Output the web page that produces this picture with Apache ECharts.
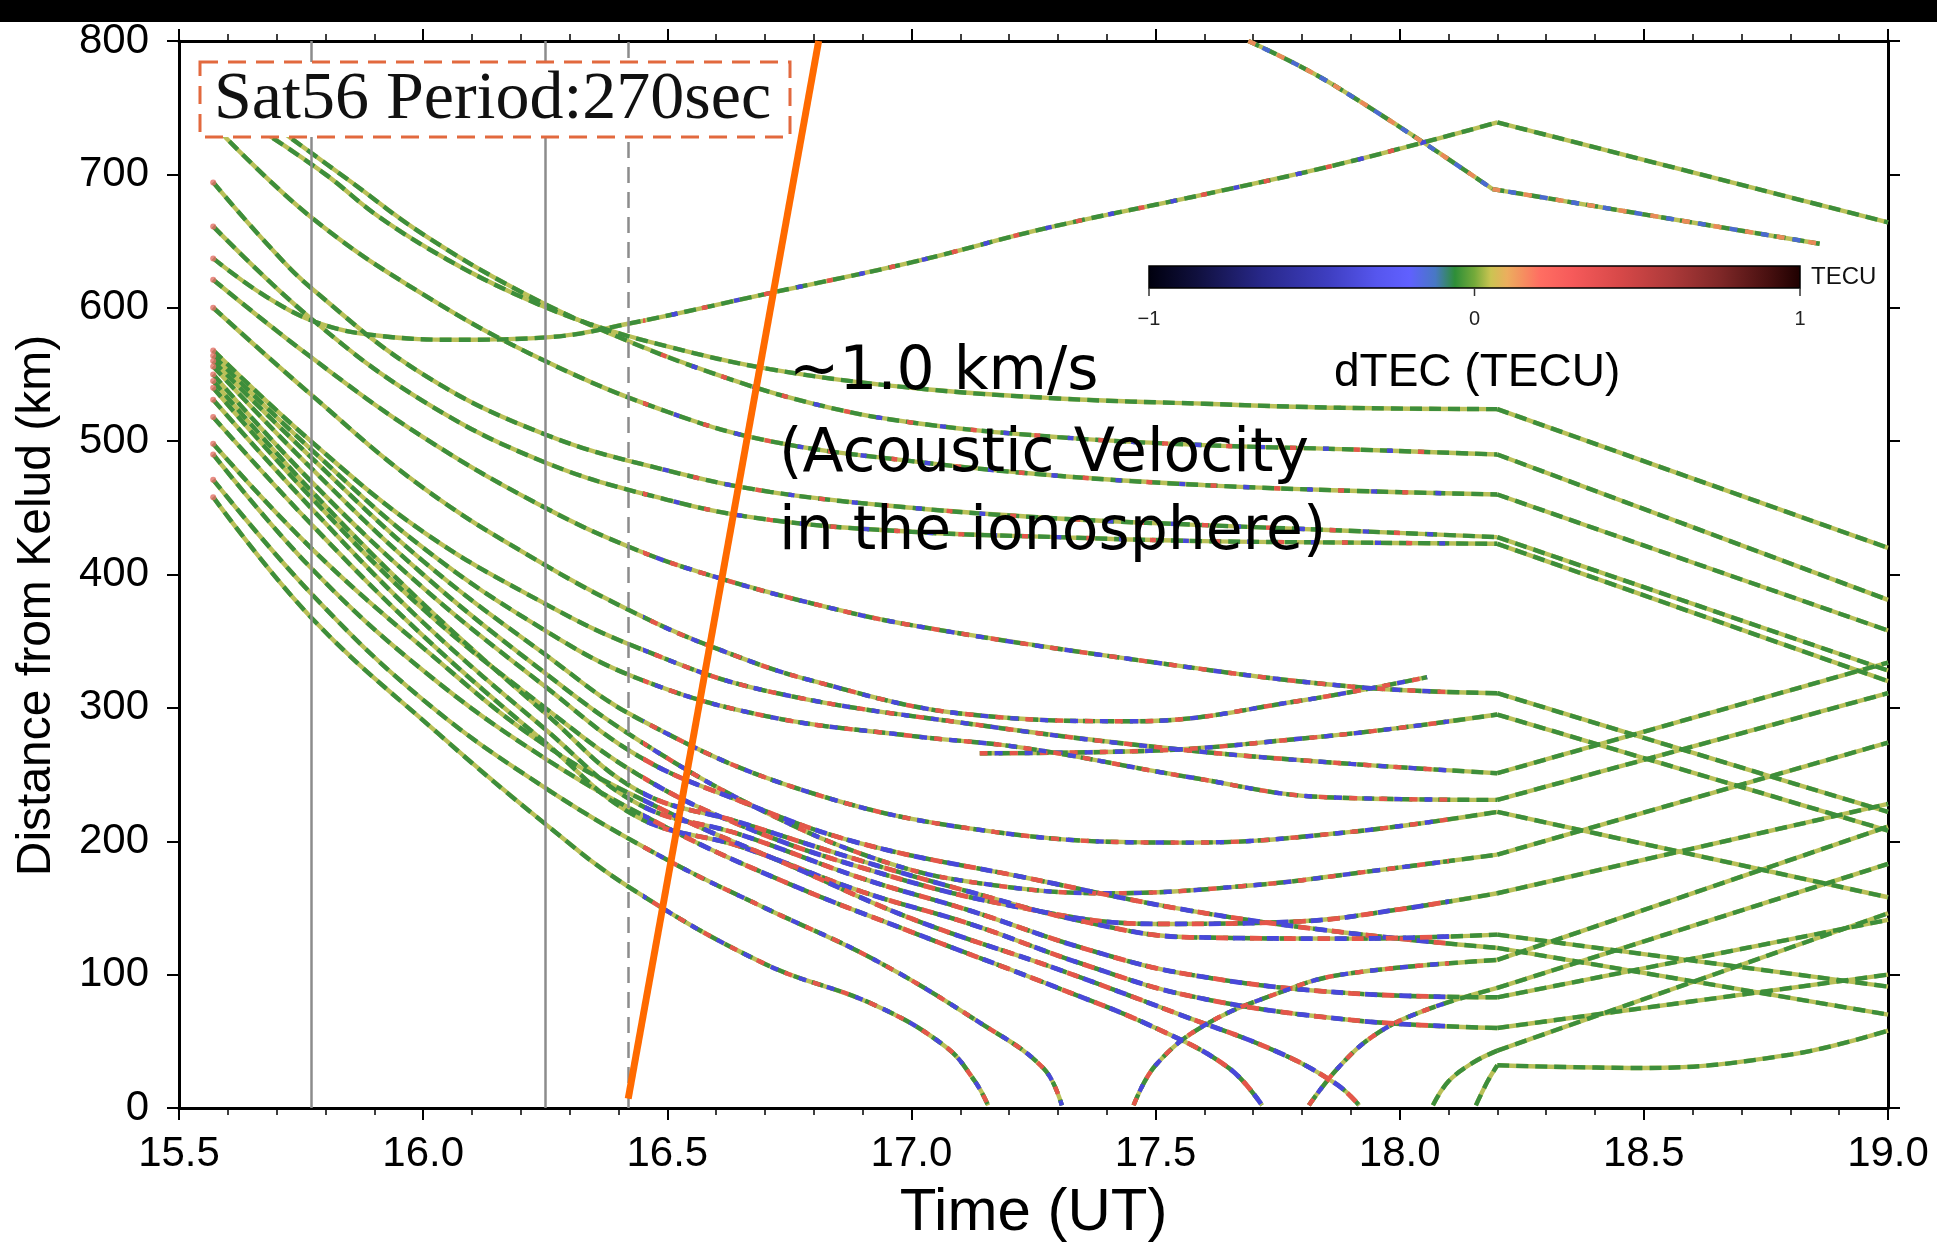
<!DOCTYPE html>
<html>
<head>
<meta charset="utf-8">
<title>Sat56 dTEC</title>
<script src="https://cdn.jsdelivr.net/npm/echarts@6.0.0/dist/echarts.min.js"></script>
<style>
html,body{margin:0;padding:0;background:#ffffff;}
#chart{width:1937px;height:1248px;}
</style>
</head>
<body>
<div id="chart"></div>
<script>
// ---------------- data: time (UT hours), distance from Kelud (km) ----------------
const xRange = [15.5, 19.0];
const yRange = [0, 800];
const refLinesSolid = [15.77, 16.25];
const refLinesDashed = [16.42];
const acousticLine = [[16.42, 7], [16.81, 800]];
const colorbarTicks = [-1, 0, 1];
const disturbWindow = [16.45, 18.1];

const trkU1 = [[15.66,735],[15.8,700],[15.91,668],[16.05,636],[16.19,610],[16.34,588],[16.5,571],[16.71,554],[17.0,540],[17.3,532],[17.6,528],[17.88,525],[18.2,524],[19.0,420]];
const trkU2 = [[15.70,735],[15.85,695],[16.0,655],[16.2,612],[16.4,578],[16.6,550],[16.8,528],[17.0,514],[17.3,503],[17.6,497],[17.88,494],[18.2,490],[19.0,381]];
const trkU3 = [[15.576,735],[15.77,668],[16.0,610],[16.25,560],[16.5,522],[16.71,500],[17.0,485],[17.3,474],[17.6,467],[17.88,463],[18.2,460],[19.0,358]];
const trkU4 = [[15.57,694],[15.68,648],[15.77,615],[16.0,550],[16.25,505],[16.5,478],[16.71,462],[17.0,450],[17.3,442],[17.6,437],[17.88,433],[18.2,428],[19.0,328]];
const trkU5 = [[15.57,661],[15.77,592],[16.0,530],[16.25,484],[16.5,456],[16.71,441],[17.0,432],[17.3,428],[17.6,425],[17.88,424],[18.2,423],[19.0,320]];
const trkUT = [[15.57,637],[15.68,608],[15.79,588],[15.91,579],[16.07,576],[16.26,578],[16.42,588],[16.71,611],[17.0,634],[17.28,660],[17.6,685],[17.88,708],[18.2,739],[19.0,664]];
const trkT1 = [[17.69,800],[17.86,768],[18.19,689],[18.86,648]];
const trkK1 = [[15.57,621],[15.77,563],[16.0,503],[16.25,450],[16.44,418],[16.6,398],[16.8,378],[17.0,362],[17.46,336],[17.9,316],[18.2,311],[18.72,253],[19.0,222]];
const trkM1 = [[15.57,600],[15.77,535],[16.0,465],[16.25,407],[16.44,370],[16.59,346],[16.8,320],[17.12,295],[17.46,290],[17.79,305],[18.056,323]];
const trkK2 = [[15.57,568],[15.77,500],[16.0,432],[16.25,378],[16.44,345],[16.7,313],[17.16,286],[17.57,268],[17.9,258],[18.2,251],[19.0,334]];
const trkK3 = [[17.14,266],[17.5,268],[17.8,277],[18.0,285],[18.2,295],[19.0,208]];
const trkK4 = [[15.57,564],[15.77,494],[16.0,420],[16.25,358],[16.44,322],[16.7,294],[17.0,279],[17.23,270],[17.57,248],[17.85,233],[18.2,231],[19.0,311]];
const trkKa = [[15.57,560],[15.77,488],[16.0,410],[16.25,340],[16.44,292],[16.78,238],[17.17,207],[17.57,199],[17.9,207],[18.2,222],[19.0,158]];
const trkKb = [[15.57,556],[15.77,480],[16.0,400],[16.25,326],[16.44,276],[16.7,222],[16.95,184],[17.15,168],[17.4,161],[17.7,167],[17.95,178],[18.2,190],[19.0,274]];
const trkKe = [[15.57,550],[15.77,470],[16.0,390],[16.25,316],[16.44,264],[16.65,230],[16.89,199],[17.23,173],[17.57,148],[17.9,131],[18.2,120],[19.0,70]];
const trkKc = [[15.57,540],[15.77,458],[16.0,374],[16.25,300],[16.44,250],[16.65,212],[16.9,180],[17.2,152],[17.5,138],[17.8,140],[18.0,149],[18.2,161],[19.0,228]];
const trkKd = [[15.57,545],[15.77,463],[16.0,378],[16.25,296],[16.44,238],[16.65,214],[16.9,185],[17.12,162],[17.35,140],[17.57,128],[17.9,127],[18.2,130],[19.0,91]];
const trkKf = [[15.57,531],[15.77,450],[16.0,364],[16.25,284],[16.44,228],[16.65,205],[16.9,172],[17.12,148],[17.35,120],[17.57,100],[17.9,86],[18.2,83],[19.0,141]];
const trkKg = [[15.57,518],[15.77,438],[16.0,354],[16.25,274],[16.44,218],[16.65,196],[16.9,162],[17.12,138],[17.35,108],[17.57,84],[17.9,66],[18.2,60],[19.0,100]];
const trkL4 = [[15.57,498],[15.77,420],[16.0,345],[16.25,272],[16.5,222],[16.75,182],[17.0,142],[17.3,104],[17.55,70],[17.75,42],[17.87,18],[17.917,2]];
const trkL3 = [[15.57,490],[15.77,405],[16.0,328],[16.25,262],[16.5,210],[16.75,168],[17.0,132],[17.3,90],[17.5,60],[17.65,30],[17.718,2]];
const trkL2 = [[15.57,471],[15.77,386],[16.0,306],[16.25,240],[16.5,186],[16.7,150],[16.92,112],[17.14,64],[17.27,30],[17.308,2]];
const trkL1 = [[15.57,458],[15.77,368],[16.03,281],[16.25,213],[16.42,166],[16.7,108],[16.92,78],[17.07,46],[17.13,20],[17.157,2]];
const trkR1 = [[17.455,2],[17.5,32],[17.6,62],[17.75,86],[17.88,100],[18.2,111],[19.0,211]];
const trkR2 = [[17.814,2],[17.876,31],[17.95,55],[18.05,73],[18.2,90],[19.0,183]];
const trkR3 = [[18.068,2],[18.1,20],[18.15,34],[18.2,43],[19.0,146]];
const trkR4 = [[18.156,2],[18.18,20],[18.2,32],[18.5,30],[18.8,40],[19.0,58]];

const bandTracks = ['Kc','Kd','Ke','Kf','Kg','L4','L3'];
const strongTracks = ['M1','K1','K2','K3','K4','Ka','Kb','L1','L2','R1','R2'];
const lightTracks = ['U2','U3','U4','U5','UT'];
const fullyDisturbed = ['T1'];

// ---------------- build ----------------
const tracks = {U1:trkU1,U2:trkU2,U3:trkU3,U4:trkU4,U5:trkU5,UT:trkUT,T1:trkT1,K1:trkK1,M1:trkM1,
  K2:trkK2,K3:trkK3,K4:trkK4,Ka:trkKa,Kb:trkKb,Ke:trkKe,Kc:trkKc,Kd:trkKd,Kf:trkKf,Kg:trkKg,
  L4:trkL4,L3:trkL3,L2:trkL2,L1:trkL1,R1:trkR1,R2:trkR2,R3:trkR3,R4:trkR4};

const LW = 4.4;
const BASE = '#bac058';
const GREEN = '#3d8e3b';
const RED = '#e4564a';
const BLUE = '#4848da';

function splitKink(pts){
  const i = pts.findIndex(p => Math.abs(p[0] - 18.2) <= 0.015);
  if (i < 0 || i === pts.length - 1) return [pts];
  return [pts.slice(0, i + 1), pts.slice(i)];
}

const series = [];
const redIdx = [], blueIdx = [];
function addLine(data, lineStyle, z){
  series.push({type:'line', data:data, smooth:0.4, showSymbol:false, symbol:'none',
    silent:true, animation:false, z:z, lineStyle:lineStyle});
  return series.length - 1;
}

Object.keys(tracks).forEach(name => {
  const segs = splitKink(tracks[name]);
  segs.forEach(seg => {
    addLine(seg, {color:BASE, width:LW, cap:'butt'}, 2);
    addLine(seg, {color:GREEN, width:LW, type:[12,7], cap:'butt'}, 3);
    if (bandTracks.includes(name)) {
      redIdx.push(addLine(seg, {width:LW + 0.4, type:[12,22], dashOffset:0, cap:'butt'}, 4));
      blueIdx.push(addLine(seg, {width:LW + 0.4, type:[12,22], dashOffset:17, cap:'butt'}, 4));
    } else if (strongTracks.includes(name)) {
      redIdx.push(addLine(seg, {width:LW, type:[8,22], dashOffset:0, cap:'butt'}, 4));
      blueIdx.push(addLine(seg, {width:LW, type:[8,22], dashOffset:15, cap:'butt'}, 4));
    } else if (lightTracks.includes(name)) {
      redIdx.push(addLine(seg, {width:LW, type:[6,58], dashOffset:0, cap:'butt'}, 4));
      blueIdx.push(addLine(seg, {width:LW, type:[6,58], dashOffset:31, cap:'butt'}, 4));
    } else if (fullyDisturbed.includes(name)) {
      addLine(seg, {color:'#e98a58', width:LW, type:[8,24], dashOffset:0, cap:'butt'}, 4);
      addLine(seg, {color:'#4a6ad0', width:LW, type:[8,24], dashOffset:16, cap:'butt'}, 4);
    }
  });
});

// start dots of tracks that begin at the left edge
const startDots = Object.keys(tracks).map(k => tracks[k][0]).filter(p => p[0] < 15.6 && p[1] < 720);
series.push({type:'scatter', data:startDots, symbolSize:6, silent:true, animation:false, z:5,
  itemStyle:{color:'#e27068'}});

// reference vertical lines + acoustic-velocity line
series.push({type:'line', data:acousticLine, showSymbol:false, symbol:'none', silent:true, animation:false, z:7,
  lineStyle:{color:'#ff6a00', width:7, cap:'butt'},
  markLine:{symbol:'none', silent:true, animation:false, label:{show:false},
    lineStyle:{color:'#8c8c8c', width:2.5, type:'solid'},
    data: refLinesSolid.map(v => ({xAxis:v}))
      .concat(refLinesDashed.map(v => ({xAxis:v, lineStyle:{type:[16,9], color:'#8c8c8c', width:2.5}})))}});

const visualMap = [
  {type:'piecewise', show:false, dimension:0, seriesIndex:redIdx,
   pieces:[{gte:disturbWindow[0], lte:disturbWindow[1], color:RED}], outOfRange:{color:'rgba(255,255,255,0)'}},
  {type:'piecewise', show:false, dimension:0, seriesIndex:blueIdx,
   pieces:[{gte:disturbWindow[0], lte:disturbWindow[1], color:BLUE}], outOfRange:{color:'rgba(255,255,255,0)'}}
];

// ---------------- layout / style ----------------
const FONT = 'Liberation Sans';
const axisLineStyle = {color:'#000', width:3};
const tickStyle = {show:true, length:12, lineStyle:{color:'#000', width:2}};
const minorTickStyle = {show:true, splitNumber:5, length:7, lineStyle:{color:'#000', width:1.5}};

const grid = {left:179, right:49, top:41, bottom:140, containLabel:false};

const cb = {x0:1149, x1:1800, y:266, h:22};
const cbStops = [
  [-1.0,'#00000e'],[-0.85,'#10103e'],[-0.65,'#28288a'],[-0.45,'#3e3ec0'],[-0.3,'#5656ee'],[-0.2,'#6060ff'],
  [-0.12,'#4878c4'],[-0.06,'#2e8e38'],[0.0,'#74aa3a'],[0.05,'#cbc452'],[0.1,'#ecae5e'],[0.2,'#ff6e62'],
  [0.3,'#f65a5a'],[0.45,'#d64848'],[0.6,'#ae3a3a'],[0.75,'#802828'],[0.9,'#481010'],[1.0,'#1e0000']
];
const cbPos = v => cb.x0 + (v + 1) / 2 * (cb.x1 - cb.x0);

const txt = (text, x, y, font, extra) => ({type:'text', z:101, silent:true,
  style:Object.assign({text:text, x:x, y:y, font:font, fill:'#000', textAlign:'left', textVerticalAlign:'middle',
    align:'left', verticalAlign:'middle'}, extra || {})});

const graphic = [
  {type:'rect', z:100, silent:true, shape:{x:0, y:0, width:1937, height:22}, style:{fill:'#000'}},
  {type:'rect', z:100, silent:true, shape:{x:200, y:62, width:590, height:75},
   style:{fill:'#ffffff', stroke:'#e2693e', lineWidth:3, lineDash:[18,10]}},
  txt('Sat56 Period:270sec', 214, 100, '68px "Liberation Serif"', {fill:'#111'}),
  txt('~1.0 km/s', 789, 373, '60px "DejaVu Sans"'),
  txt('(Acoustic Velocity', 779, 455, '60px "DejaVu Sans"'),
  txt('in the ionosphere)', 779, 533, '60px "DejaVu Sans"'),
  {type:'rect', z:101, silent:true, shape:{x:cb.x0, y:cb.y, width:cb.x1 - cb.x0, height:cb.h},
   style:{stroke:'#000', lineWidth:1.5, fill:{type:'linear', x:0, y:0, x2:1, y2:0,
     colorStops: cbStops.map(s => ({offset:(s[0] + 1) / 2, color:s[1]}))}}},
  txt('TECU', cb.x1 + 11, cb.y + cb.h / 2, '24px "Liberation Sans"', {fill:'#111'}),
  txt('dTEC (TECU)', 1334, 373, '46px "Liberation Sans"')
];
colorbarTicks.forEach(v => {
  graphic.push({type:'line', z:101, silent:true, shape:{x1:cbPos(v), y1:cb.y + cb.h, x2:cbPos(v), y2:cb.y + cb.h + 8},
    style:{stroke:'#333', lineWidth:1.5}});
  graphic.push(txt((v < 0 ? '\u2212' : '') + Math.abs(v), cbPos(v), cb.y + cb.h + 31, '20px "Liberation Sans"',
    {fill:'#222', textAlign:'center', align:'center'}));
});

const option = {
  backgroundColor:'#ffffff',
  animation:false,
  grid:grid,
  xAxis:[
    {type:'value', position:'bottom', min:xRange[0], max:xRange[1], interval:0.5,
     axisLine:{show:true, onZero:false, lineStyle:axisLineStyle}, axisTick:tickStyle, minorTick:minorTickStyle,
     splitLine:{show:false}, minorSplitLine:{show:false},
     axisLabel:{formatter:v => v.toFixed(1), fontSize:42, fontFamily:FONT, color:'#000', margin:25},
     name:'Time (UT)', nameLocation:'middle', nameGap:75,
     nameTextStyle:{fontSize:60, fontFamily:FONT, color:'#000'}},
    {type:'value', position:'top', min:xRange[0], max:xRange[1], interval:0.5,
     axisLine:{show:true, onZero:false, lineStyle:axisLineStyle}, axisTick:tickStyle, minorTick:minorTickStyle,
     splitLine:{show:false}, axisLabel:{show:false}}
  ],
  yAxis:[
    {type:'value', position:'left', min:yRange[0], max:yRange[1], interval:100,
     axisLine:{show:true, onZero:false, lineStyle:axisLineStyle}, axisTick:tickStyle,
     splitLine:{show:false},
     axisLabel:{fontSize:42, fontFamily:FONT, color:'#000', margin:30},
     name:'Distance from Kelud (km)', nameLocation:'middle', nameGap:118,
     nameTextStyle:{fontSize:48, fontFamily:FONT, color:'#000', padding:[0,62,0,0]}},
    {type:'value', position:'right', min:yRange[0], max:yRange[1], interval:100,
     axisLine:{show:true, onZero:false, lineStyle:axisLineStyle}, axisTick:tickStyle,
     splitLine:{show:false}, axisLabel:{show:false}}
  ],
  visualMap:visualMap,
  series:series,
  graphic:graphic
};

const chart = echarts.init(document.getElementById('chart'), null, {renderer:'canvas', width:1937, height:1248});
chart.setOption(option);
</script>
</body>
</html>
